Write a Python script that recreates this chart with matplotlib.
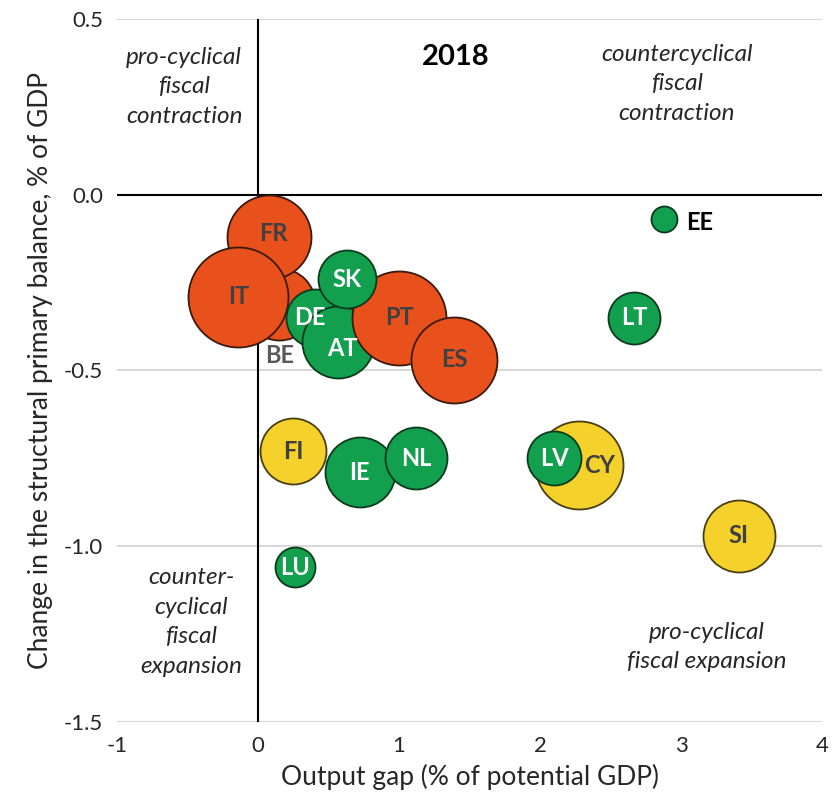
import numpy as np
import matplotlib.pyplot as plt

plt.rcParams['font.family'] = ['Lato', 'DejaVu Sans']
plt.rcParams['axes.unicode_minus'] = False

# Data: output gap (x), change in structural primary balance (y), bubble radius (px)
countries = ['BE', 'FR', 'IT', 'DE', 'AT', 'PT', 'ES', 'SK',
             'FI', 'IE', 'NL', 'LU', 'LT', 'EE', 'CY', 'LV', 'SI']
output_gap = [0.15, 0.08, -0.14, 0.40, 0.57, 1.00, 1.39, 0.63,
              0.25, 0.72, 1.12, 0.26, 2.67, 2.88, 2.28, 2.10, 3.41]
spb_change = [-0.31, -0.12, -0.29, -0.35, -0.42, -0.35, -0.47, -0.24,
              -0.73, -0.79, -0.75, -1.06, -0.35, -0.07, -0.77, -0.75, -0.97]
bubble_r = [36, 42, 50, 29, 36, 47, 43, 29,
            33, 35, 31, 20, 26, 13, 44, 27, 36]
group = ['o', 'o', 'o', 'g', 'g', 'o', 'o', 'g',
         'y', 'g', 'g', 'g', 'g', 'g', 'y', 'g', 'y']

fill = {'o': '#E8501C', 'g': '#12A04E', 'y': '#F5D12B'}
edge = {'o': '#3A1A0C', 'g': '#0B3A1C', 'y': '#4A3E12'}
txtc = {'o': '#404040', 'g': 'white', 'y': '#404040'}

# label nudges in pixels
label_dx = {'CY': 20, 'DE': -5, 'AT': 4, 'FR': 4}
label_dy = {'AT': -6, 'FR': 3}

fig = plt.figure(figsize=(8.37, 8.07), dpi=100)
ax = fig.add_axes([0.140, 0.1053, 0.842, 0.8712])

ax.set_xlim(-1, 4)
ax.set_ylim(-1.5, 0.5)
for yv in [0.5, -0.5, -1.0, -1.5]:
    ax.axhline(yv, color='#D9D9D9', lw=1.5, zorder=0)
ax.axhline(0, color='black', lw=1.5, zorder=1)
ax.axvline(0, color='black', lw=1.5, zorder=1)

px2pt = 0.72
for i, c in enumerate(countries):
    g = group[i]
    r_pt = bubble_r[i] * px2pt
    ax.scatter(output_gap[i], spb_change[i], s=(2 * r_pt) ** 2, color=fill[g],
               edgecolors=edge[g], linewidths=1.3, zorder=3 + i)
    if c == 'BE':
        ax.annotate(c, xy=(output_gap[i], spb_change[i]), xytext=(0, -37),
                    textcoords='offset points', ha='center', va='center',
                    fontsize=17, fontweight='bold', color='#595959', zorder=2,
                    arrowprops=dict(arrowstyle='-', color='#2F3A7A', lw=1.2,
                                    shrinkA=8, shrinkB=r_pt))
    elif c == 'EE':
        ax.annotate(c, xy=(output_gap[i], spb_change[i]), xytext=(16, -2),
                    textcoords='offset points', ha='left', va='center',
                    fontsize=17, fontweight='bold', color='black', zorder=50)
    else:
        ax.annotate(c, xy=(output_gap[i], spb_change[i]),
                    xytext=(label_dx.get(c, 0) * px2pt, label_dy.get(c, 0) * px2pt),
                    textcoords='offset points', ha='center', va='center',
                    fontsize=17, fontweight='bold', color=txtc[g], zorder=50)

# quadrant notes
note = dict(ha='center', va='center', style='italic', fontsize=17.5, linespacing=1.5,
            color='#262626')
ax.text(-0.525, 0.307, 'pro-cyclical\nfiscal\ncontraction', **note)
ax.text(2.97, 0.315, 'countercyclical\nfiscal\ncontraction', **note)
ax.text(-0.475, -1.215, 'counter-\ncyclical\nfiscal\nexpansion', **note)
ax.text(3.18, -1.287, 'pro-cyclical\nfiscal expansion', **note)
ax.text(1.40, 0.392, '2018', ha='center', va='center', fontsize=21, fontweight='bold')

ax.set_xticks([-1, 0, 1, 2, 3, 4])
ax.set_yticks([0.5, 0.0, -0.5, -1.0, -1.5])
ax.set_yticklabels(['0.5', '0.0', '-0.5', '-1.0', '-1.5'])
ax.tick_params(length=0, labelsize=16, colors='#262626', pad=10)
for sp in ax.spines.values():
    sp.set_visible(False)

ax.set_xlabel('Output gap (% of potential GDP)', fontsize=19, color='#262626', labelpad=6)
ax.set_ylabel('Change in the structural primary balance, % of GDP', fontsize=19,
              color='#262626', labelpad=8)

fig.savefig('out.png', dpi=100)
